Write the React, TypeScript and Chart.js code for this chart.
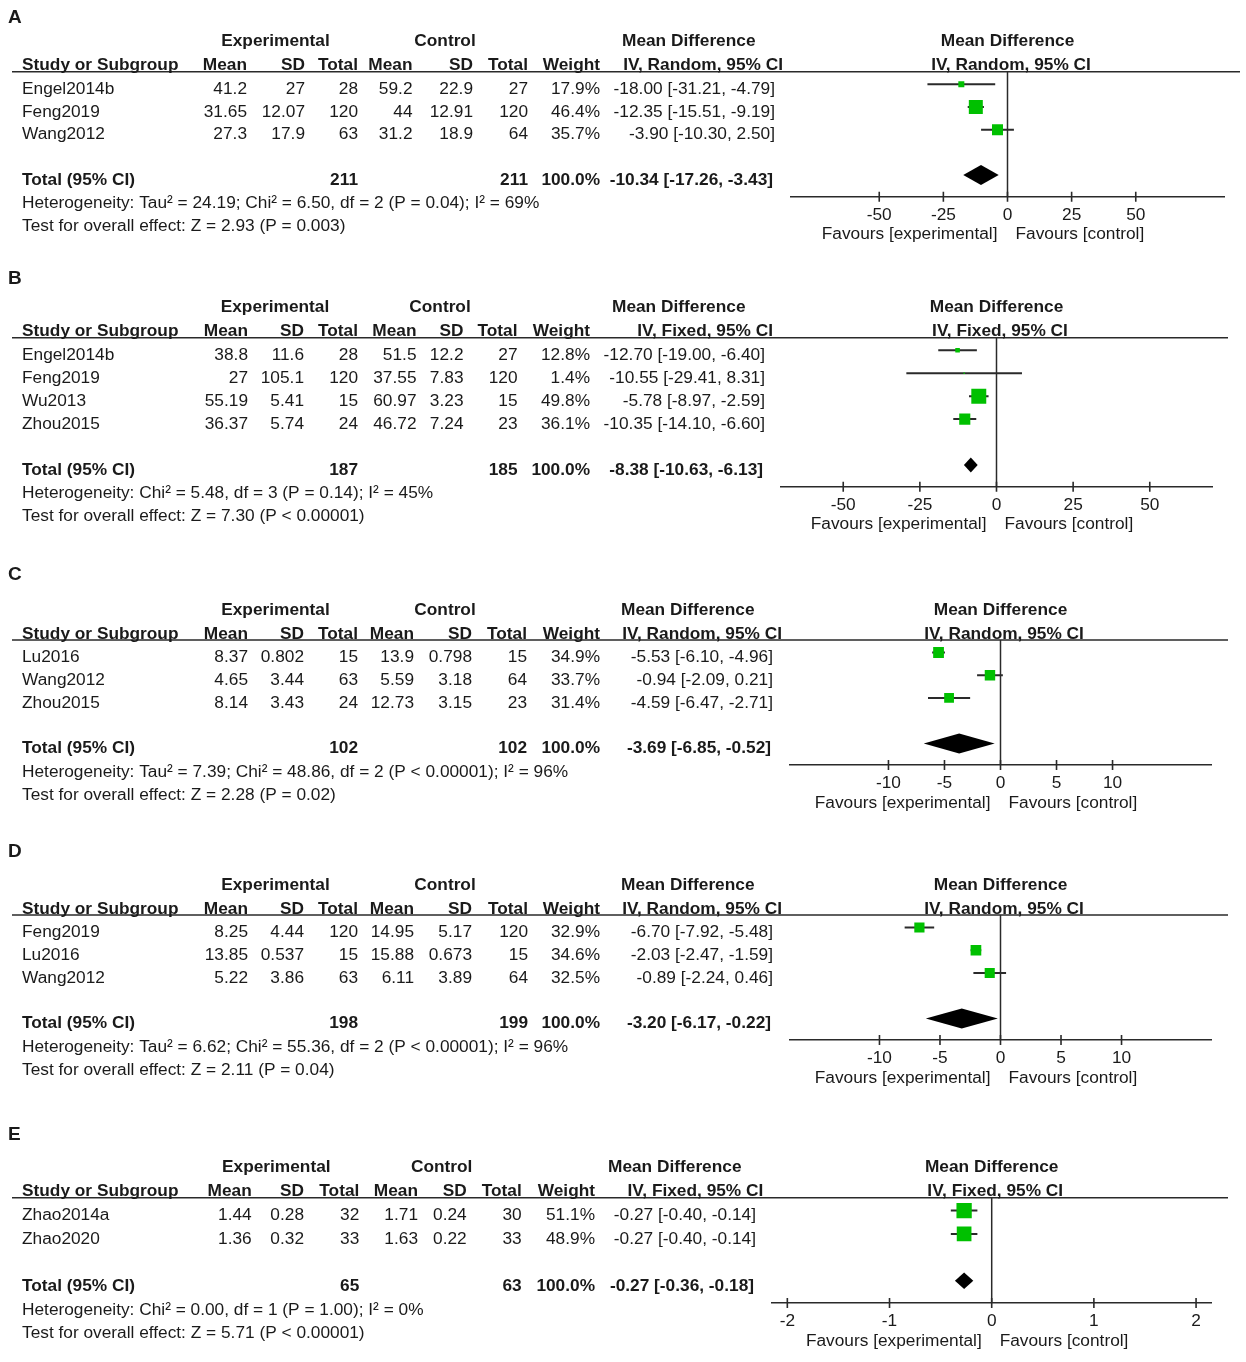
import React, { useEffect, useRef } from 'react';
import { Chart, registerables } from 'chart.js';

Chart.register(...registerables);

const FONT = '"Liberation Sans", Arial, Helvetica, sans-serif';
const FS = 17.3;
const INK = '#1a1a1a';
const RULE = '#2a2a2a';
const GREEN = '#00c000';
const PAGE_W = 1246;
const PAGE_H = 1362;

// ---------- Panel A ----------
const aStudies = ['Engel2014b', 'Feng2019', 'Wang2012'];
const aExpMean = [41.2, 31.65, 27.3];
const aExpSD = [27, 12.07, 17.9];
const aExpTotal = [28, 120, 63];
const aCtlMean = [59.2, 44, 31.2];
const aCtlSD = [22.9, 12.91, 18.9];
const aCtlTotal = [27, 120, 64];
const aWeight = [17.9, 46.4, 35.7];
const aMD = [-18.0, -12.35, -3.9];
const aLow = [-31.21, -15.51, -10.3];
const aHigh = [-4.79, -9.19, 2.5];
const aTotals = [211, 211];
const aPooled = [-10.34, -17.26, -3.43];
const aTicks = [-50, -25, 0, 25, 50];
const aMethod = 'IV, Random, 95% CI';
const aHet = 'Heterogeneity: Tau\u00b2 = 24.19; Chi\u00b2 = 6.50, df = 2 (P = 0.04); I\u00b2 = 69%';
const aTest = 'Test for overall effect: Z = 2.93 (P = 0.003)';

// ---------- Panel B ----------
const bStudies = ['Engel2014b', 'Feng2019', 'Wu2013', 'Zhou2015'];
const bExpMean = [38.8, 27, 55.19, 36.37];
const bExpSD = [11.6, 105.1, 5.41, 5.74];
const bExpTotal = [28, 120, 15, 24];
const bCtlMean = [51.5, 37.55, 60.97, 46.72];
const bCtlSD = [12.2, 7.83, 3.23, 7.24];
const bCtlTotal = [27, 120, 15, 23];
const bWeight = [12.8, 1.4, 49.8, 36.1];
const bMD = [-12.7, -10.55, -5.78, -10.35];
const bLow = [-19.0, -29.41, -8.97, -14.1];
const bHigh = [-6.4, 8.31, -2.59, -6.6];
const bTotals = [187, 185];
const bPooled = [-8.38, -10.63, -6.13];
const bTicks = [-50, -25, 0, 25, 50];
const bMethod = 'IV, Fixed, 95% CI';
const bHet = 'Heterogeneity: Chi\u00b2 = 5.48, df = 3 (P = 0.14); I\u00b2 = 45%';
const bTest = 'Test for overall effect: Z = 7.30 (P < 0.00001)';

// ---------- Panel C ----------
const cStudies = ['Lu2016', 'Wang2012', 'Zhou2015'];
const cExpMean = [8.37, 4.65, 8.14];
const cExpSD = [0.802, 3.44, 3.43];
const cExpTotal = [15, 63, 24];
const cCtlMean = [13.9, 5.59, 12.73];
const cCtlSD = [0.798, 3.18, 3.15];
const cCtlTotal = [15, 64, 23];
const cWeight = [34.9, 33.7, 31.4];
const cMD = [-5.53, -0.94, -4.59];
const cLow = [-6.1, -2.09, -6.47];
const cHigh = [-4.96, 0.21, -2.71];
const cTotals = [102, 102];
const cPooled = [-3.69, -6.85, -0.52];
const cTicks = [-10, -5, 0, 5, 10];
const cMethod = 'IV, Random, 95% CI';
const cHet = 'Heterogeneity: Tau\u00b2 = 7.39; Chi\u00b2 = 48.86, df = 2 (P < 0.00001); I\u00b2 = 96%';
const cTest = 'Test for overall effect: Z = 2.28 (P = 0.02)';

// ---------- Panel D ----------
const dStudies = ['Feng2019', 'Lu2016', 'Wang2012'];
const dExpMean = [8.25, 13.85, 5.22];
const dExpSD = [4.44, 0.537, 3.86];
const dExpTotal = [120, 15, 63];
const dCtlMean = [14.95, 15.88, 6.11];
const dCtlSD = [5.17, 0.673, 3.89];
const dCtlTotal = [120, 15, 64];
const dWeight = [32.9, 34.6, 32.5];
const dMD = [-6.7, -2.03, -0.89];
const dLow = [-7.92, -2.47, -2.24];
const dHigh = [-5.48, -1.59, 0.46];
const dTotals = [198, 199];
const dPooled = [-3.2, -6.17, -0.22];
const dTicks = [-10, -5, 0, 5, 10];
const dMethod = 'IV, Random, 95% CI';
const dHet = 'Heterogeneity: Tau\u00b2 = 6.62; Chi\u00b2 = 55.36, df = 2 (P < 0.00001); I\u00b2 = 96%';
const dTest = 'Test for overall effect: Z = 2.11 (P = 0.04)';

// ---------- Panel E ----------
const eStudies = ['Zhao2014a', 'Zhao2020'];
const eExpMean = [1.44, 1.36];
const eExpSD = [0.28, 0.32];
const eExpTotal = [32, 33];
const eCtlMean = [1.71, 1.63];
const eCtlSD = [0.24, 0.22];
const eCtlTotal = [30, 33];
const eWeight = [51.1, 48.9];
const eMD = [-0.27, -0.27];
const eLow = [-0.4, -0.4];
const eHigh = [-0.14, -0.14];
const eTotals = [65, 63];
const ePooled = [-0.27, -0.36, -0.18];
const eTicks = [-2, -1, 0, 1, 2];
const eMethod = 'IV, Fixed, 95% CI';
const eHet = 'Heterogeneity: Chi\u00b2 = 0.00, df = 1 (P = 1.00); I\u00b2 = 0%';
const eTest = 'Test for overall effect: Z = 5.71 (P < 0.00001)';

type PanelData = {
  letter: string;
  studies: string[];
  expMean: number[];
  expSD: number[];
  expTotal: number[];
  ctlMean: number[];
  ctlSD: number[];
  ctlTotal: number[];
  weight: number[];
  md: number[];
  low: number[];
  high: number[];
  totals: number[];
  pooled: number[];
  ticks: number[];
  method: string;
  het: string;
  test: string;
};

type PanelLayout = {
  top: number;
  height: number;
  letterY: number;
  lineY: number;
  axisY: number;
  axisL: number;
  axisR: number;
  xMax: number;
  lineR: number;
  cols: number[]; // right edges: expMean, expSD, expTotal, ctlMean, ctlSD, ctlTotal, weight, CI
  expC: number;
  ctlC: number;
  mdL: number;
  ivR: number;
  diamondH: number;
};

const panels: { d: PanelData; l: PanelLayout }[] = [
  {
    d: {
      letter: 'A', studies: aStudies, expMean: aExpMean, expSD: aExpSD, expTotal: aExpTotal,
      ctlMean: aCtlMean, ctlSD: aCtlSD, ctlTotal: aCtlTotal, weight: aWeight, md: aMD, low: aLow,
      high: aHigh, totals: aTotals, pooled: aPooled, ticks: aTicks, method: aMethod, het: aHet, test: aTest,
    },
    l: {
      top: 0, height: 260, letterY: 18, lineY: 71.7, axisY: 196.7, axisL: 791, axisR: 1224, xMax: 84.4,
      lineR: 1240, cols: [247, 305, 358, 412.5, 473, 528, 600, 775], expC: 275.5, ctlC: 445, mdL: 622,
      ivR: 783, diamondH: 10,
    },
  },
  {
    d: {
      letter: 'B', studies: bStudies, expMean: bExpMean, expSD: bExpSD, expTotal: bExpTotal,
      ctlMean: bCtlMean, ctlSD: bCtlSD, ctlTotal: bCtlTotal, weight: bWeight, md: bMD, low: bLow,
      high: bHigh, totals: bTotals, pooled: bPooled, ticks: bTicks, method: bMethod, het: bHet, test: bTest,
    },
    l: {
      top: 260, height: 300, letterY: 279, lineY: 337.7, axisY: 486.7, axisL: 780.7, axisR: 1212.3, xMax: 70.4,
      lineR: 1228, cols: [248, 304, 358, 416.5, 463.5, 517.5, 590, 765], expC: 275, ctlC: 440, mdL: 612,
      ivR: 773, diamondH: 7.5,
    },
  },
  {
    d: {
      letter: 'C', studies: cStudies, expMean: cExpMean, expSD: cExpSD, expTotal: cExpTotal,
      ctlMean: cCtlMean, ctlSD: cCtlSD, ctlTotal: cCtlTotal, weight: cWeight, md: cMD, low: cLow,
      high: cHigh, totals: cTotals, pooled: cPooled, ticks: cTicks, method: cMethod, het: cHet, test: cTest,
    },
    l: {
      top: 560, height: 278, letterY: 575, lineY: 640, axisY: 765, axisL: 789.3, axisR: 1211.7, xMax: 18.85,
      lineR: 1228, cols: [248, 304, 358, 414, 472, 527, 600, 773], expC: 275.5, ctlC: 445, mdL: 621,
      ivR: 782, diamondH: 10,
    },
  },
  {
    d: {
      letter: 'D', studies: dStudies, expMean: dExpMean, expSD: dExpSD, expTotal: dExpTotal,
      ctlMean: dCtlMean, ctlSD: dCtlSD, ctlTotal: dCtlTotal, weight: dWeight, md: dMD, low: dLow,
      high: dHigh, totals: dTotals, pooled: dPooled, ticks: dTicks, method: dMethod, het: dHet, test: dTest,
    },
    l: {
      top: 838, height: 280, letterY: 852, lineY: 915, axisY: 1040, axisL: 789.3, axisR: 1211.7, xMax: 17.45,
      lineR: 1228, cols: [248, 304, 358, 414, 472, 528, 600, 773], expC: 275.5, ctlC: 445, mdL: 621,
      ivR: 782, diamondH: 10,
    },
  },
  {
    d: {
      letter: 'E', studies: eStudies, expMean: eExpMean, expSD: eExpSD, expTotal: eExpTotal,
      ctlMean: eCtlMean, ctlSD: eCtlSD, ctlTotal: eCtlTotal, weight: eWeight, md: eMD, low: eLow,
      high: eHigh, totals: eTotals, pooled: ePooled, ticks: eTicks, method: eMethod, het: eHet, test: eTest,
    },
    l: {
      top: 1118, height: 244, letterY: 1135, lineY: 1197.7, axisY: 1303, axisL: 771.7, axisR: 1211.7, xMax: 2.153,
      lineR: 1228, cols: [251.7, 304, 359.3, 418, 466.7, 521.7, 595, 756], expC: 276.3, ctlC: 441.7, mdL: 608,
      ivR: 763.3, diamondH: 8.3,
    },
  },
];

const ciText = (m: number, lo: number, hi: number) =>
  `${m.toFixed(2)} [${lo.toFixed(2)}, ${hi.toFixed(2)}]`;

function makePlugin(d: PanelData, L: PanelLayout) {
  const n = d.studies.length;
  return {
    id: 'forestTable' + d.letter,
    afterDatasetsDraw(chart: any) {
      const { ctx } = chart;
      const xs = chart.scales.x;
      const ys = chart.scales.y;
      const yc = ys.getPixelForValue(n + 1);
      ctx.save();
      ctx.beginPath();
      ctx.moveTo(xs.getPixelForValue(d.pooled[1]), yc);
      ctx.lineTo(xs.getPixelForValue(d.pooled[0]), yc - L.diamondH);
      ctx.lineTo(xs.getPixelForValue(d.pooled[2]), yc);
      ctx.lineTo(xs.getPixelForValue(d.pooled[0]), yc + L.diamondH);
      ctx.closePath();
      ctx.fillStyle = '#000';
      ctx.fill();
      ctx.restore();
    },
    afterDraw(chart: any) {
      const { ctx, chartArea } = chart;
      const xs = chart.scales.x;
      const ys = chart.scales.y;
      const x0 = xs.getPixelForValue(0);
      const lineY = chartArea.top;
      const axisY = chartArea.bottom;

      const txt = (s: string, x: number, y: number, align: CanvasTextAlign, bold = false, size = FS) => {
        ctx.font = `${bold ? 'bold ' : ''}${size}px ${FONT}`;
        ctx.textAlign = align;
        ctx.textBaseline = 'middle';
        ctx.fillStyle = INK;
        ctx.fillText(s, x, y);
      };

      ctx.save();
      // header rule
      ctx.strokeStyle = RULE;
      ctx.lineWidth = 1.6;
      ctx.beginPath();
      ctx.moveTo(12, lineY);
      ctx.lineTo(L.lineR, lineY);
      ctx.stroke();

      // tick marks crossing the axis line
      ctx.beginPath();
      for (const t of xs.ticks) {
        const px = xs.getPixelForValue(t.value);
        ctx.moveTo(px, axisY - 5);
        ctx.lineTo(px, axisY + 5);
      }
      ctx.stroke();

      // panel letter
      txt(d.letter, 8, L.letterY - L.top, 'left', true, 19);

      // headers
      const h1 = lineY - 30;
      const h2 = lineY - 6;
      const c = L.cols;
      txt('Experimental', L.expC, h1, 'center', true);
      txt('Control', L.ctlC, h1, 'center', true);
      txt('Mean Difference', L.mdL, h1, 'left', true);
      txt('Mean Difference', x0, h1, 'center', true);
      txt('Study or Subgroup', 22, h2, 'left', true);
      txt('Mean', c[0], h2, 'right', true);
      txt('SD', c[1], h2, 'right', true);
      txt('Total', c[2], h2, 'right', true);
      txt('Mean', c[3], h2, 'right', true);
      txt('SD', c[4], h2, 'right', true);
      txt('Total', c[5], h2, 'right', true);
      txt('Weight', c[6], h2, 'right', true);
      txt(d.method, L.ivR, h2, 'right', true);
      txt(d.method, x0 + 3.5, h2, 'center', true);

      // study rows
      for (let i = 0; i < n; i++) {
        const y = ys.getPixelForValue(i) + 5;
        txt(d.studies[i], 22, y, 'left');
        txt(String(d.expMean[i]), c[0], y, 'right');
        txt(String(d.expSD[i]), c[1], y, 'right');
        txt(String(d.expTotal[i]), c[2], y, 'right');
        txt(String(d.ctlMean[i]), c[3], y, 'right');
        txt(String(d.ctlSD[i]), c[4], y, 'right');
        txt(String(d.ctlTotal[i]), c[5], y, 'right');
        txt(d.weight[i].toFixed(1) + '%', c[6], y, 'right');
        txt(ciText(d.md[i], d.low[i], d.high[i]), c[7], y, 'right');
      }

      // total row
      const ty = ys.getPixelForValue(n + 1) + 5;
      txt('Total (95% CI)', 22, ty, 'left', true);
      txt(String(d.totals[0]), c[2], ty, 'right', true);
      txt(String(d.totals[1]), c[5], ty, 'right', true);
      txt('100.0%', c[6], ty, 'right', true);
      txt(ciText(d.pooled[0], d.pooled[1], d.pooled[2]), c[7] - 2, ty, 'right', true);

      // heterogeneity + test
      txt(d.het, 22, axisY + 6.8, 'left');
      txt(d.test, 22, axisY + 29.8, 'left');

      // favours labels
      txt('Favours [experimental]', x0 - 10, axisY + 38, 'right');
      txt('Favours [control]', x0 + 8, axisY + 38, 'left');
      ctx.restore();
    },
  };
}

function buildConfig(d: PanelData, L: PanelLayout): any {
  const n = d.studies.length;
  const yMin = -0.55;
  const yMax = n + 1.95;
  const squares = {
    type: 'scatter',
    data: d.md.map((v, i) => ({ x: v, y: i })),
    pointStyle: 'rect',
    pointRadius: d.weight.map((w) => (0.28 * w + 1) / Math.SQRT2),
    pointBackgroundColor: GREEN,
    pointBorderColor: GREEN,
    pointBorderWidth: 0,
    borderWidth: 0,
    showLine: false,
  };
  const ciLines = d.md.map((_, i) => ({
    type: 'line',
    data: [
      { x: d.low[i], y: i },
      { x: d.high[i], y: i },
    ],
    borderColor: RULE,
    borderWidth: 2,
    pointRadius: 0,
    fill: false,
  }));
  const zeroLine = {
    type: 'line',
    data: [
      { x: 0, y: yMin },
      { x: 0, y: yMax },
    ],
    borderColor: RULE,
    borderWidth: 1.5,
    pointRadius: 0,
    fill: false,
  };
  return {
    type: 'scatter',
    data: { datasets: [squares, ...ciLines, zeroLine] },
    options: {
      animation: false,
      responsive: false,
      events: [],
      layout: {
        autoPadding: false,
        padding: { left: L.axisL, right: PAGE_W - L.axisR, top: L.lineY - L.top, bottom: 0 },
      },
      plugins: {
        legend: { display: false },
        tooltip: { enabled: false },
        title: { display: false },
      },
      scales: {
        x: {
          type: 'linear',
          position: 'bottom',
          min: -L.xMax,
          max: L.xMax,
          afterBuildTicks: (s: any) => {
            s.ticks = d.ticks.map((v) => ({ value: v }));
          },
          afterFit: (s: any) => {
            s.height = L.top + L.height - L.axisY;
          },
          grid: { display: false, drawTicks: false },
          border: { display: true, color: RULE, width: 1.6 },
          ticks: {
            padding: 8,
            color: INK,
            font: { family: FONT, size: FS },
            maxRotation: 0,
            autoSkip: false,
            callback: (v: any) => String(v),
          },
        },
        y: {
          type: 'linear',
          display: false,
          reverse: true,
          min: yMin,
          max: yMax,
        },
      },
    },
    plugins: [makePlugin(d, L)],
  };
}

function ForestPanel({ d, l }: { d: PanelData; l: PanelLayout }) {
  const ref = useRef<HTMLCanvasElement | null>(null);
  useEffect(() => {
    if (!ref.current) return;
    const chart = new Chart(ref.current, buildConfig(d, l));
    return () => chart.destroy();
  }, [d, l]);
  return (
    <canvas
      ref={ref}
      width={PAGE_W}
      height={l.height}
      style={{ position: 'absolute', left: 0, top: l.top, width: PAGE_W, height: l.height }}
    />
  );
}

export default function App() {
  return (
    <div
      style={{
        position: 'absolute',
        left: 0,
        top: 0,
        width: PAGE_W,
        height: PAGE_H,
        background: '#ffffff',
        overflow: 'hidden',
      }}
    >
      {panels.map((p) => (
        <ForestPanel key={p.d.letter} d={p.d} l={p.l} />
      ))}
    </div>
  );
}
